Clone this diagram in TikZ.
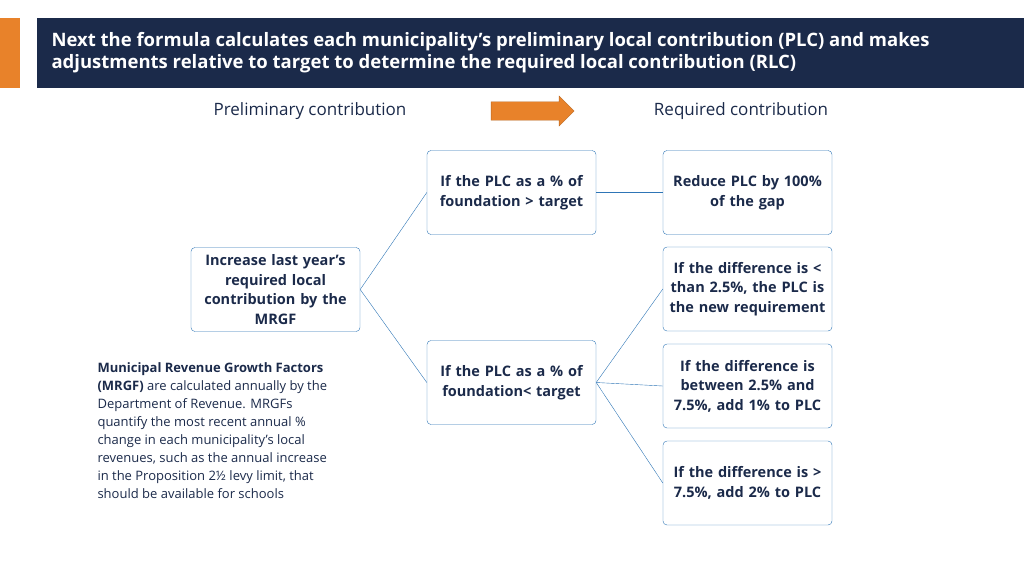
\documentclass[tikz,border=0pt]{standalone}
\usepackage{fontspec}
\setmainfont{Open Sans}
\usetikzlibrary{positioning,shapes.arrows}
\definecolor{navy}{HTML}{1B2A4A}
\definecolor{boxblue}{HTML}{2E75B6}
\definecolor{accent}{HTML}{E8822A}
\begin{document}
\begin{tikzpicture}[x=1pt,y=-1pt,
    stepbox/.style={draw=boxblue,rounded corners=4pt,minimum width=169pt,minimum height=84pt,
      align=center,text width=160pt,font=\fontsize{14.5}{19.5}\selectfont\bfseries,text=navy},
    link/.style={draw=boxblue}]
  \useasboundingbox (0,0) rectangle (1024,576);

  % Header
  \fill[accent] (0,18) rectangle (20,88);
  \fill[navy] (37,18) rectangle (1024,88);
  \node[anchor=west,text=white,align=left,font=\fontsize{18.5}{22}\selectfont\bfseries] (title) at (48,53)
    {Next the formula calculates each municipality’s preliminary local contribution (PLC) and makes\\
     adjustments relative to target to determine the required local contribution (RLC)};

  % Column headings
  \node[text=navy,font=\fontsize{17}{20}\selectfont] (prelim) at (310,111) {Preliminary contribution};
  \node[text=navy,font=\fontsize{17}{20}\selectfont] (requir) at (741,111) {Required contribution};
  \node[single arrow,fill=accent,draw=accent!80!black,minimum height=83pt,minimum width=30pt,
    single arrow head extend=2pt,inner sep=3pt] (arr) at (528,111) {};

  % Boxes
  \node[stepbox] (grow) at (275.5,289.5) {Increase last year’s\\ required local\\ contribution by the\\ MRGF};
  \node[stepbox] (above) at (511.5,192.5) {If the PLC as a \% of\\ foundation > target};
  \node[stepbox] (below) at (511.5,382.5) {If the PLC as a \% of\\ foundation< target};
  \node[stepbox] (reduce) at (747.5,192.5) {Reduce PLC by 100\%\\ of the gap};
  \node[stepbox] (small) at (747.5,289) {If the difference is <\\ than 2.5\%, the PLC is\\ the new requirement};
  \node[stepbox] (mid) at (747.5,386) {If the difference is\\ between 2.5\% and\\ 7.5\%, add 1\% to PLC};
  \node[stepbox] (big) at (747.5,483) {If the difference is >\\ 7.5\%, add 2\% to PLC};

  % Connectors
  \draw[link] (grow.east) -- (above.west);
  \draw[link] (grow.east) -- (below.west);
  \draw[link] (above.east) -- (reduce.west);
  \draw[link] (below.east) -- (small.west);
  \draw[link] (below.east) -- (mid.west);
  \draw[link] (below.east) -- (big.west);

  % Note
  \node[anchor=north west,text=navy,align=left,font=\fontsize{13}{18}\selectfont] (note) at (94,359)
    {\textbf{Municipal Revenue Growth Factors}\\
     \textbf{(MRGF)} are calculated annually by the\\
     Department of Revenue. MRGFs\\
     quantify the most recent annual \%\\
     change in each municipality’s local\\
     revenues, such as the annual increase\\
     in the Proposition 2½ levy limit, that\\
     should be available for schools};
\end{tikzpicture}
\end{document}
